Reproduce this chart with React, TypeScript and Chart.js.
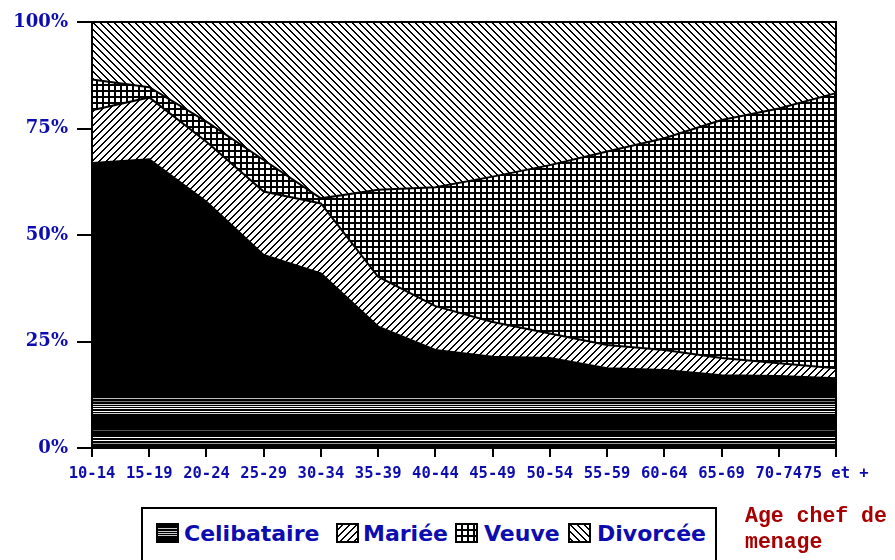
import React, { useEffect, useRef } from 'react';
import { Chart, registerables } from 'chart.js';

Chart.register(...registerables);

const categories = ['10-14', '15-19', '20-24', '25-29', '30-34', '35-39', '40-44', '45-49', '50-54', '55-59', '60-64', '65-69', '70-74', '75 et +'];
const celibataire = [66.9, 67.8, 57.8, 45.3, 41.0, 28.5, 23.0, 21.4, 21.1, 18.7, 18.3, 17.1, 16.9, 16.4];
const mariee = [12.4, 14.5, 14.1, 14.9, 16.4, 11.7, 10.3, 8.2, 5.8, 5.5, 4.7, 4.0, 3.0, 2.3];
const veuve = [7.2, 2.4, 4.7, 7.4, 1.2, 20.4, 27.9, 34.1, 39.5, 45.4, 49.7, 55.9, 59.8, 64.6];
const divorcee = [13.5, 15.3, 23.4, 32.4, 41.4, 39.4, 38.8, 36.3, 33.6, 30.4, 27.3, 23.0, 20.3, 16.7];
const seriesNames = ['Celibataire', 'Mariée', 'Veuve', 'Divorcée'];
const yTickStep = 25;
const axisTitle = ['Age chef de', 'menage'];

const BLUE = '#0c0cb0';
const RED = '#a80000';

type PixelFn = (x: number, y: number) => string | null;

function makeTile(w: number, h: number, fn: PixelFn): HTMLCanvasElement {
  const c = document.createElement('canvas');
  c.width = w;
  c.height = h;
  const g = c.getContext('2d')!;
  g.fillStyle = '#ffffff';
  g.fillRect(0, 0, w, h);
  for (let y = 0; y < h; y++) {
    for (let x = 0; x < w; x++) {
      const col = fn(x, y);
      if (col) {
        g.fillStyle = col;
        g.fillRect(x, y, 1, 1);
      }
    }
  }
  return c;
}

const solidStripes: Record<number, string> = {
  398: '#bbbbbb', 401: '#777777', 404: '#cccccc', 406: '#eeeeee', 408: '#ffffff',
  411: '#ffffff', 413: '#cccccc', 430: '#555555', 437: '#ffffff', 440: '#ffffff', 443: '#999999',
};

const tiles = {
  solid: () => makeTile(1, 560, (_x, y) => solidStripes[y] || '#000000'),
  slash: () => makeTile(7, 7, (x, y) => ((x + y) % 7 < 2 ? '#000000' : null)),
  grid: () => makeTile(6, 6, (x, y) => (x % 6 < 2 || y % 6 < 2 ? '#000000' : null)),
  back: () => makeTile(7, 7, (x, y) => ((x - y + 14) % 7 < 2 ? '#000000' : null)),
};

function drawIcon(c: HTMLCanvasElement, kind: number) {
  const g = c.getContext('2d')!;
  const w = c.width, h = c.height;
  g.clearRect(0, 0, w, h);
  if (kind === 0) {
    g.fillStyle = '#000';
    g.fillRect(0, 0, w, h);
    g.fillStyle = '#cccccc';
    [5, 8, 10, 12].forEach((y) => g.fillRect(1, y, w - 2, 1));
  } else {
    const tile = kind === 1 ? tiles.slash() : kind === 2 ? tiles.grid() : tiles.back();
    const p = g.createPattern(tile, 'repeat')!;
    g.fillStyle = p;
    g.fillRect(0, 0, w, h);
  }
  g.strokeStyle = '#000';
  g.lineWidth = 2;
  g.strokeRect(1, 1, w - 2, h - 2);
}

const framePlugin = {
  id: 'frame',
  afterDatasetsDraw(chart: any) {
    const { ctx, chartArea } = chart;
    ctx.save();
    ctx.strokeStyle = '#000';
    ctx.lineWidth = 2;
    ctx.strokeRect(chartArea.left, chartArea.top, chartArea.right - chartArea.left, chartArea.bottom - chartArea.top);
    ctx.restore();
  },
};

const legendIconX = [156, 336, 455, 568];
const legendTextX = [184, 363, 484, 597];

function LegendIcon({ kind }: { kind: number }) {
  const ref = useRef<HTMLCanvasElement>(null);
  useEffect(() => {
    if (ref.current) drawIcon(ref.current, kind);
  }, [kind]);
  return <canvas ref={ref} width={23} height={20} style={{ display: 'block' }} />;
}

export default function App() {
  const canvasRef = useRef<HTMLCanvasElement>(null);

  useEffect(() => {
    const canvas = canvasRef.current!;
    const ctx = canvas.getContext('2d')!;
    const pSolid = ctx.createPattern(tiles.solid(), 'repeat')!;
    const pSlash = ctx.createPattern(tiles.slash(), 'repeat')!;
    const pGrid = ctx.createPattern(tiles.grid(), 'repeat')!;
    const pBack = ctx.createPattern(tiles.back(), 'repeat')!;

    const base = { borderColor: '#000000', borderWidth: 2, pointRadius: 0, tension: 0 };
    const chart = new Chart(canvas, {
      type: 'line',
      data: {
        labels: categories,
        datasets: [
          { ...base, label: seriesNames[0], data: celibataire, fill: 'origin', backgroundColor: pSolid as any },
          { ...base, label: seriesNames[1], data: mariee, fill: '-1', backgroundColor: pSlash as any },
          { ...base, label: seriesNames[2], data: veuve, fill: '-1', backgroundColor: pGrid as any },
          { ...base, label: seriesNames[3], data: divorcee, fill: '-1', backgroundColor: pBack as any },
        ],
      },
      options: {
        responsive: false,
        animation: false,
        devicePixelRatio: 1,
        layout: { padding: { top: 22, right: 59, left: 0, bottom: 0 } },
        plugins: { legend: { display: false }, tooltip: { enabled: false } },
        scales: {
          x: {
            grid: { drawOnChartArea: false, drawTicks: true, tickLength: 9, color: '#000', lineWidth: 2 },
            border: { display: true, color: '#000', width: 2 },
            ticks: {
              autoSkip: false,
              maxRotation: 0,
              minRotation: 0,
              color: BLUE,
              padding: 8,
              font: { family: 'DejaVu Sans Mono', size: 15.5, weight: 'bold' },
            },
            afterFit: (s: any) => { s.height = 112; },
          },
          y: {
            stacked: true,
            min: 0,
            max: 100,
            grid: { drawOnChartArea: false, drawTicks: true, tickLength: 15, color: '#000', lineWidth: 2 },
            border: { display: true, color: '#000', width: 2 },
            ticks: {
              stepSize: yTickStep,
              color: BLUE,
              padding: 9,
              font: { family: 'DejaVu Serif', size: 18, weight: 'bold' },
              callback: (v: any) => `${v}%`,
            },
            afterFit: (s: any) => { s.width = 92; },
          },
        },
      } as any,
      plugins: [framePlugin],
    });
    return () => chart.destroy();
  }, []);

  return (
    <div style={{ position: 'absolute', left: 0, top: 0, width: 895, height: 560, overflow: 'hidden', background: '#fff' }}>
      <canvas ref={canvasRef} width={895} height={560} style={{ position: 'absolute', left: 0, top: 0, width: 895, height: 560 }} />
      <div
        style={{
          position: 'absolute', left: 141, top: 507, width: 576, height: 70,
          border: '2px solid #000', boxSizing: 'border-box', background: '#fff',
        }}
      />
      {seriesNames.map((name, i) => (
        <React.Fragment key={name}>
          <div style={{ position: 'absolute', left: legendIconX[i], top: 523 }}>
            <LegendIcon kind={i} />
          </div>
          <div
            style={{
              position: 'absolute', left: legendTextX[i], top: 521, lineHeight: '26px', whiteSpace: 'nowrap',
              fontFamily: 'DejaVu Sans', fontWeight: 'bold', fontSize: 22, color: BLUE,
            }}
          >
            {name}
          </div>
        </React.Fragment>
      ))}
      <div
        style={{
          position: 'absolute', left: 745, top: 503, lineHeight: '26px', whiteSpace: 'nowrap',
          fontFamily: 'Liberation Mono', fontWeight: 'bold', fontSize: 21.5, color: RED,
        }}
      >
        {axisTitle.map((t) => (
          <div key={t}>{t}</div>
        ))}
      </div>
    </div>
  );
}
